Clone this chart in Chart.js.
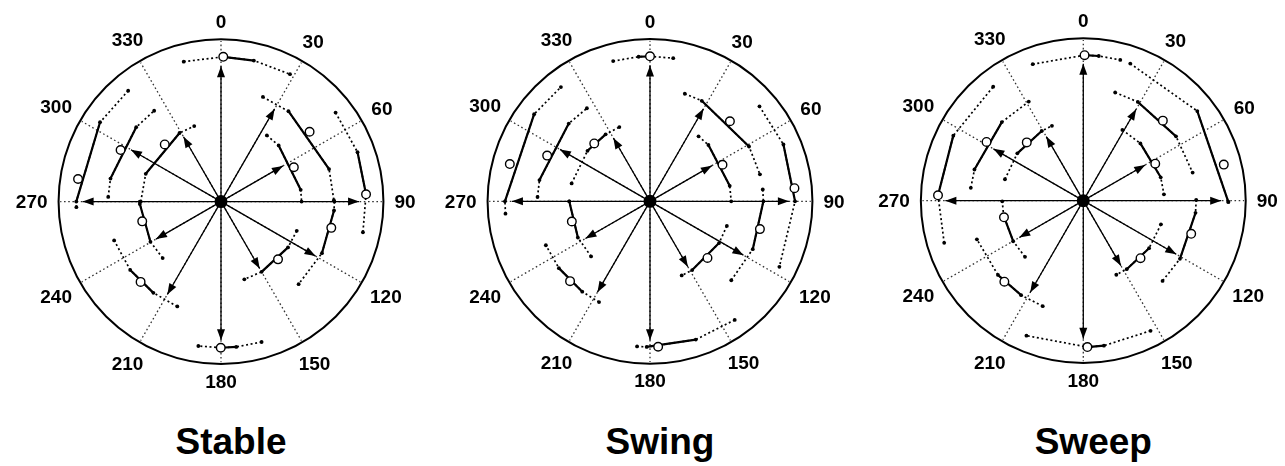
<!DOCTYPE html>
<html>
<head>
<meta charset="utf-8">
<script src="https://cdn.jsdelivr.net/npm/chart.js@4.4.1/dist/chart.umd.min.js"></script>
<style>
  html, body { margin: 0; padding: 0; background: #fff; width: 1285px; height: 466px; overflow: hidden; }
  .panel { position: absolute; top: 0; }
  .title { position: absolute; top: 423px; width: 300px; text-align: center;
           font: bold 37px "Liberation Sans", Arial, sans-serif; line-height: 37px; color: #000; }
</style>
</head>
<body>
<script>
// ---------------- DATA ----------------
const angleTicks = [0, 30, 60, 90, 120, 150, 180, 210, 240, 270, 300, 330];
const panelTitles = ['Stable', 'Swing', 'Sweep'];

// values are fractions of the outer ring radius; angles in degrees clockwise from 0 (top)
const stableArrow = [0.835, 0.660, 0.440, 0.850, 0.672, 0.476, 0.855, 0.661, 0.462, 0.852, 0.640, 0.462];
const stableRing  = [0.893, 0.695, 0.496, 0.894, 0.698, 0.500, 0.901, 0.700, 0.500, 0.891, 0.695, 0.494];
const stableLow   = [-14.9, 21.8, 34.7, 52.1, 90.0, 111.1, 163.9, 202.6, 225.9, 267.8, 272.4, 270.0];
const stableBandA = [0.9, 36.7, 45.7, 70.1, 94.5, 124.4, 174.0, 216.5, 240.3, 270.0, 281.8, 290.3];
const stableBandB = [13.1, 73.2, 81.6, 87.1, 117.1, 150.0, 180.1, 233.0, 268.3, 303.3, 311.3, 328.9];
const stableHigh  = [28.4, 89.3, 90.0, 102.2, 136.8, 163.3, 188.9, 250.0, 270.0, 320.1, 323.7, 340.5];
const stableMean  = [0.9, 51.7, 64.7, 87.1, 103.4, 135.4, 180.1, 225.0, 255.9, 279.0, 297.2, 315.5];

const swingArrow = [0.838, 0.659, 0.440, 0.855, 0.664, 0.466, 0.856, 0.647, 0.459, 0.850, 0.640, 0.451];
const swingRing  = [0.894, 0.697, 0.500, 0.893, 0.698, 0.497, 0.898, 0.696, 0.497, 0.893, 0.693, 0.495];
const swingLow   = [-14.7, 17.9, 36.7, 49.0, 84.0, 107.8, 144.5, 206.8, 226.9, 265.1, 272.2, 282.9];
const swingBandA = [-4.5, 27.2, 46.0, 66.9, 90.0, 121.2, 161.7, 216.8, 243.3, 270.0, 280.9, 309.0];
const swingBandB = [0.0, 61.0, 79.0, 90.0, 115.0, 148.5, 181.3, 233.7, 270.0, 307.0, 313.8, 326.5];
const swingHigh  = [9.2, 76.2, 90.0, 116.9, 134.2, 156.9, 185.1, 247.1, 270.0, 322.1, 325.9, 337.6];
const swingMean  = [0.0, 44.9, 63.2, 84.8, 104.2, 134.6, 176.8, 225.0, 255.5, 284.9, 294.0, 316.1];

const sweepArrow = [0.844, 0.651, 0.440, 0.849, 0.661, 0.463, 0.852, 0.654, 0.455, 0.849, 0.639, 0.456];
const sweepRing  = [0.897, 0.695, 0.498, 0.893, 0.695, 0.500, 0.903, 0.697, 0.499, 0.895, 0.697, 0.500];
const sweepLow   = [-20.3, 16.4, 28.9, 18.9, 89.6, 107.0, 152.7, 201.0, 226.0, 253.1, 276.5, 285.3];
const sweepBandA = [0.5, 28.9, 44.9, 51.8, 96.2, 125.9, 171.9, 213.3, 239.9, 272.1, 286.0, 305.7];
const sweepBandB = [6.1, 55.2, 73.2, 90.5, 121.1, 147.7, 178.4, 228.9, 259.1, 296.6, 314.0, 329.2];
const sweepHigh  = [14.7, 75.6, 85.5, 90.5, 135.4, 156.0, 202.8, 250.0, 269.5, 321.7, 331.2, 337.3];
const sweepMean  = [0.5, 44.8, 62.8, 75.6, 107.1, 135.2, 178.4, 224.2, 258.1, 272.1, 301.3, 315.9];

// ---------------- LAYOUT ----------------
const panels = [
  { title: panelTitles[0], arrow: stableArrow, ring: stableRing, low: stableLow, a: stableBandA, b: stableBandB, high: stableHigh, mean: stableMean, cx: 221.0, cy: 201.5 },
  { title: panelTitles[1], arrow: swingArrow,  ring: swingRing,  low: swingLow,  a: swingBandA,  b: swingBandB,  high: swingHigh,  mean: swingMean,  cx: 650.0, cy: 201.2 },
  { title: panelTitles[2], arrow: sweepArrow,  ring: sweepRing,  low: sweepLow,  a: sweepBandA,  b: sweepBandB,  high: sweepHigh,  mean: sweepMean,  cx: 1083.3, cy: 200.5 }
];
const RPX = 167.5;      // outer ring radius in px
const CW = 430, CH = 410;
const FONT = '"Liberation Sans", Arial, sans-serif';

function pt(deg, r) {
  const a = deg * Math.PI / 180;
  return { x: r * Math.sin(a), y: r * Math.cos(a) };
}
function gap() { return { x: null, y: null }; }

const framePlugin = {
  id: 'polarFrame',
  beforeDatasetsDraw(chart) {
    const { ctx, scales: { x, y } } = chart;
    const cx = x.getPixelForValue(0), cy = y.getPixelForValue(0);
    const r = x.getPixelForValue(1) - cx;
    ctx.save();
    ctx.beginPath();
    ctx.arc(cx, cy, r, 0, Math.PI * 2);
    ctx.lineWidth = 2;
    ctx.strokeStyle = '#000';
    ctx.stroke();
    ctx.restore();
  },
  afterDatasetDraw(chart, args) {
    if (args.meta._dataset.role !== 'arrow') return;
    const pts = args.meta.data;
    const ctx = chart.ctx;
    ctx.save();
    ctx.fillStyle = '#000';
    for (let i = 0; i + 1 < pts.length; i += 3) {
      const p0 = pts[i], p1 = pts[i + 1];
      const dx = p1.x - p0.x, dy = p1.y - p0.y;
      const L = Math.hypot(dx, dy) || 1;
      const ux = dx / L, uy = dy / L, nx = -uy, ny = ux;
      const len = 11, hw = 4;
      ctx.beginPath();
      ctx.moveTo(p1.x, p1.y);
      ctx.lineTo(p1.x - ux * len + nx * hw, p1.y - uy * len + ny * hw);
      ctx.lineTo(p1.x - ux * len - nx * hw, p1.y - uy * len - ny * hw);
      ctx.closePath();
      ctx.fill();
    }
    ctx.restore();
  },
  afterDraw(chart) {
    const { ctx, scales: { x, y } } = chart;
    const cx = x.getPixelForValue(0), cy = y.getPixelForValue(0);
    const r = x.getPixelForValue(1) - cx;
    ctx.save();
    ctx.font = 'bold 19px ' + FONT;
    ctx.fillStyle = '#000';
    ctx.textAlign = 'center';
    ctx.textBaseline = 'middle';
    angleTicks.forEach(a => {
      const t = String(a);
      const w = ctx.measureText(t).width, h = 13;
      const s = Math.sin(a * Math.PI / 180), c = Math.cos(a * Math.PI / 180);
      const d = r + 11 + Math.abs(s) * w / 2 + Math.abs(c) * h / 2;
      ctx.fillText(t, cx + s * d, cy - c * d + 1);
    });
    ctx.restore();
  }
};

panels.forEach(p => {
  const left = Math.round(p.cx - CW / 2);
  const div = document.createElement('div');
  div.className = 'panel';
  div.style.left = left + 'px';
  div.style.width = CW + 'px';
  div.style.height = CH + 'px';
  const cv = document.createElement('canvas');
  cv.width = CW; cv.height = CH;
  cv.style.width = CW + 'px'; cv.style.height = CH + 'px';
  div.appendChild(cv);
  document.body.appendChild(div);

  const t = document.createElement('div');
  t.className = 'title';
  t.textContent = p.title;
  t.style.left = (p.cx + 10 - 150) + 'px';
  document.body.appendChild(t);

  const spokes = [], arrows = [], dotted = [], solid = [], means = [];
  angleTicks.forEach((a, i) => {
    spokes.push({ x: 0, y: 0 }, pt(a, 0.99), gap());
    arrows.push({ x: 0, y: 0 }, pt(a, p.arrow[i]), gap());
    const r = p.ring[i];
    dotted.push(pt(p.low[i], r), pt(p.a[i], r), pt(p.b[i], r), pt(p.high[i], r), gap());
    solid.push(pt(p.a[i], r), pt(p.b[i], r), gap());
    means.push(pt(p.mean[i], r));
  });

  const xmin = (left - p.cx) / RPX, xmax = (left + CW - p.cx) / RPX;
  const ymax = p.cy / RPX, ymin = -(CH - p.cy) / RPX;

  new Chart(cv, {
    type: 'scatter',
    data: {
      datasets: [
        { role: 'center', data: [{ x: 0, y: 0 }], pointRadius: 6.5, pointBackgroundColor: '#000', pointBorderWidth: 0, order: 0 },
        { role: 'mean', data: means, pointRadius: 4.3, pointBackgroundColor: '#fff', pointBorderColor: '#000', pointBorderWidth: 1.4, order: 1 },
        { role: 'arrow', data: arrows, showLine: true, spanGaps: false, borderColor: '#000', borderWidth: 1.3, pointRadius: 0, order: 2 },
        { role: 'solid', data: solid, showLine: true, spanGaps: false, borderColor: '#000', borderWidth: 2.2, pointRadius: 0, order: 3 },
        { role: 'dotted', data: dotted, showLine: true, spanGaps: false, borderColor: '#000', borderWidth: 1.7, borderDash: [2, 2.6],
          pointRadius: 1.9, pointBackgroundColor: '#000', pointBorderWidth: 0, order: 4 },
        { role: 'spoke', data: spokes, showLine: true, spanGaps: false, borderColor: '#333', borderWidth: 1.3, borderDash: [1.6, 2.6], pointRadius: 0, order: 5 }
      ]
    },
    options: {
      responsive: false,
      maintainAspectRatio: false,
      animation: false,
      events: [],
      layout: { padding: 0 },
      plugins: { legend: { display: false }, tooltip: { enabled: false }, title: { display: false } },
      scales: {
        x: { type: 'linear', display: false, min: xmin, max: xmax },
        y: { type: 'linear', display: false, min: ymin, max: ymax }
      }
    },
    plugins: [framePlugin]
  });
});
</script>
</body>
</html>
